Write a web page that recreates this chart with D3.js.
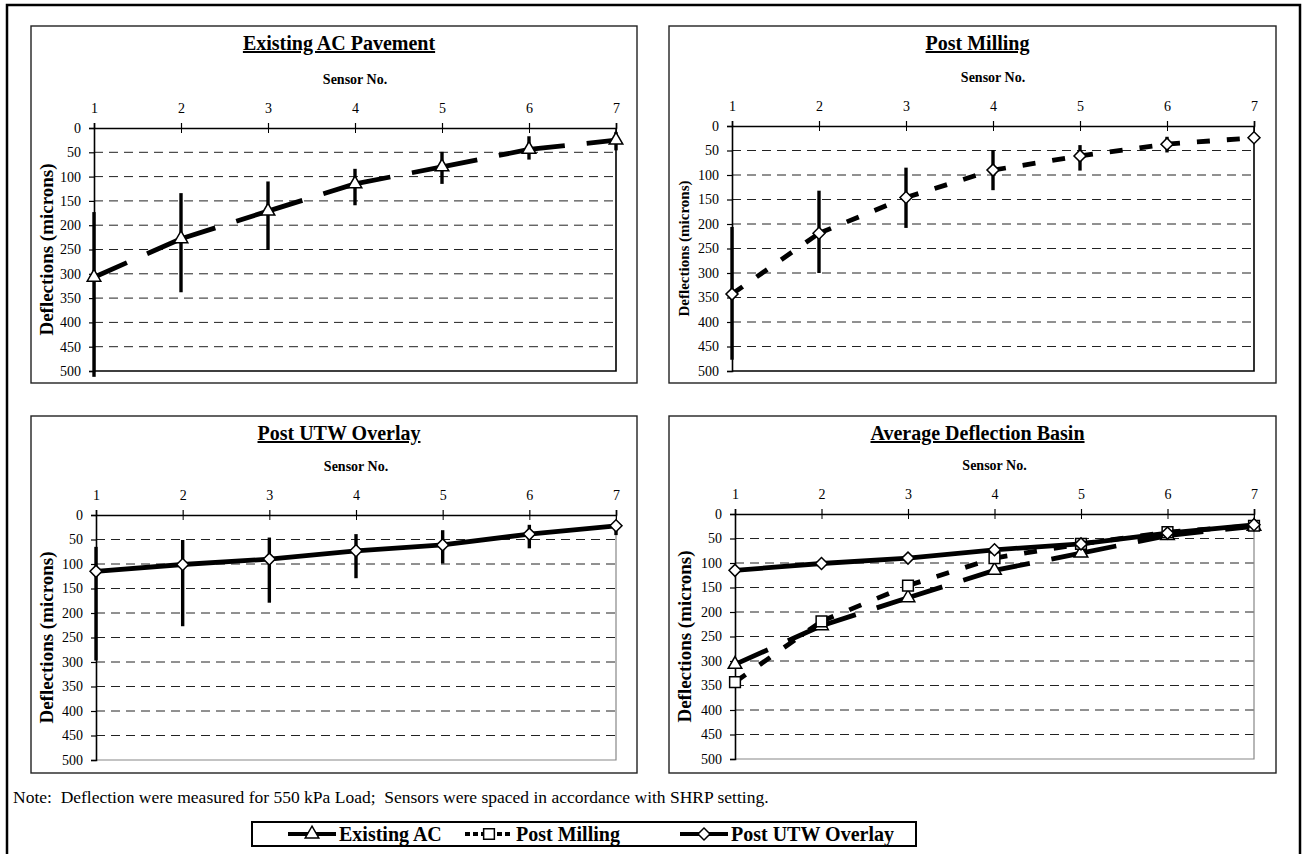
<!DOCTYPE html>
<html>
<head>
<meta charset="utf-8">
<script src="https://cdn.jsdelivr.net/npm/d3@7"></script>
<style>
    body { margin: 0; background: #fff; }
    svg text { font-family: "Liberation Serif", "Times New Roman", serif; fill: #000; }
</style>
</head>
<body>
<div id="chart"></div>
<script>
// Data
const sensors = [1, 2, 3, 4, 5, 6, 7];
const yTicks = [0, 50, 100, 150, 200, 250, 300, 350, 400, 450, 500];
const gridTicks = [50, 100, 150, 200, 250, 300, 350, 400, 450];

// average deflections (microns) and error bar ends
const existingAC = [307, 228, 171, 115, 80, 44, 25];
const existingACLow = [173, 134, 110, 84, 49, 17, 8];
const existingACHigh = [512, 338, 251, 159, 115, 65, 46];

const postMilling = [343, 219, 146, 90, 61, 37, 24];
const postMillingLow = [206, 132, 85, 49, 39, 22, 15];
const postMillingHigh = [477, 300, 208, 131, 91, 54, 32];

const postUTW = [115, 101, 90, 73, 61, 39, 22];
const postUTWLow = [65, 51, 46, 39, 31, 20, 14];
const postUTWHigh = [297, 227, 179, 129, 99, 68, 41];

const panelTitles = ["Existing AC Pavement", "Post Milling", "Post UTW Overlay", "Average Deflection Basin"];
const seriesNames = ["Existing AC", "Post Milling", "Post UTW Overlay"];
const noteText = "Note:  Deflection were measured for 550 kPa Load;  Sensors were spaced in accordance with SHRP setting.";

// Layout
const W = 1303, H = 854;
const font = '"Liberation Serif", "Times New Roman", serif';

const svg = d3.select("#chart").append("svg")
    .attr("width", W)
    .attr("height", H);

// outer frame (bottom runs off the page)
svg.append("rect")
    .attr("x", 7).attr("y", 5)
    .attr("width", 1293).attr("height", 870)
    .attr("fill", "none").attr("stroke", "#000").attr("stroke-width", 2.5);

// line styles per series
const styles = {
    existing: { dash: "36,22", symbol: "triangle" },
    milling: { dash: "13,17", symbol: "diamond" },
    utw: { dash: null, symbol: "diamond" }
};

function markerPath(kind) {
    if (kind === "triangle") return d3.symbol().type(d3.symbolTriangle).size(80)();
    if (kind === "square") return d3.symbol().type(d3.symbolSquare).size(115)();
    return d3.symbol().type(d3.symbolSquare).size(72)();
}

function drawPanel(p) {
    const g = svg.append("g");

    // panel box
    g.append("rect")
        .attr("x", p.box[0]).attr("y", p.box[1])
        .attr("width", p.box[2] - p.box[0]).attr("height", p.box[3] - p.box[1])
        .attr("fill", "#fff").attr("stroke", "#222").attr("stroke-width", 1.4);

    const x = d3.scaleLinear().domain([1, 7]).range([p.plot[0], p.plot[2]]);
    const y = d3.scaleLinear().domain([0, 500]).range([p.plot[1], p.plot[3]]);

    // title
    g.append("text")
        .attr("x", (p.box[0] + p.box[2]) / 2 + 5)
        .attr("y", p.box[1] + 24)
        .attr("text-anchor", "middle")
        .style("font-size", "20px").style("font-weight", "bold")
        .style("text-decoration", "underline")
        .text(p.title);

    g.append("text")
        .attr("x", (p.plot[0] + p.plot[2]) / 2)
        .attr("y", p.plot[1] - 44)
        .attr("text-anchor", "middle")
        .style("font-size", "14px").style("font-weight", "bold")
        .text("Sensor No.");

    // y label
    g.append("text")
        .attr("transform", `translate(${p.ylabX},${(p.plot[1] + p.plot[3]) / 2}) rotate(-90)`)
        .attr("text-anchor", "middle")
        .attr("dy", "0.35em")
        .style("font-size", p.ylabSize + "px").style("font-weight", "bold")
        .text("Deflections (microns)");

    // grid lines
    g.selectAll(".grid")
        .data(gridTicks)
        .enter().append("line")
        .attr("x1", p.plot[0]).attr("x2", p.plot[2])
        .attr("y1", d => y(d)).attr("y2", d => y(d))
        .attr("stroke", "#222").attr("stroke-width", 1)
        .attr("stroke-dasharray", "9,6");

    // right and bottom frame of the plot area
    g.append("path")
        .attr("d", `M${p.plot[2]},${p.plot[1]}V${p.plot[3]}H${p.plot[0]}`)
        .attr("fill", "none").attr("stroke", p.frame).attr("stroke-width", p.frameW);

    // axes
    const xAxis = g.append("g")
        .attr("transform", `translate(0,${p.plot[1]})`)
        .call(d3.axisTop(x).tickValues(sensors).tickSize(5).tickPadding(10).tickFormat(d3.format("d")));
    g.append("g")
        .attr("transform", `translate(0,${p.plot[1]})`)
        .call(d3.axisTop(x).tickValues(sensors).tickSize(-5).tickFormat(""))
        .select(".domain").remove();
    const yAxis = g.append("g")
        .attr("transform", `translate(${p.plot[0]},0)`)
        .call(d3.axisLeft(y).tickValues(yTicks).tickSize(5).tickPadding(8));

    [xAxis, yAxis].forEach(a => {
        a.selectAll("text").style("font-family", font).style("font-size", "14px").attr("fill", "#000");
        a.select(".domain").attr("stroke", "#000").attr("stroke-width", 1.6);
        a.selectAll(".tick line").attr("stroke", "#000").attr("stroke-width", 1.2);
    });

    // series
    p.series.forEach(s => {
        const st = styles[s.style];
        if (s.low) {
            g.selectAll(null)
                .data(s.values)
                .enter().append("line")
                .attr("x1", (d, i) => x(sensors[i])).attr("x2", (d, i) => x(sensors[i]))
                .attr("y1", (d, i) => y(s.low[i])).attr("y2", (d, i) => y(s.high[i]))
                .attr("stroke", "#000").attr("stroke-width", 3.4);
        }
        const line = d3.line().x(d => x(d[0])).y(d => y(d[1]));
        const pts = sensors.map((k, i) => [k, s.values[i]]);
        // dash pattern restarts at every segment
        d3.pairs(pts).forEach(pair => {
            g.append("path")
                .attr("d", line(pair))
                .attr("fill", "none").attr("stroke", "#000").attr("stroke-width", 4.8)
                .attr("stroke-dasharray", st.dash);
        });
        g.selectAll(null)
            .data(pts)
            .enter().append("path")
            .attr("d", markerPath(s.marker || st.symbol))
            .attr("transform", d => `translate(${x(d[0])},${y(d[1])})` + ((s.marker || st.symbol) === "diamond" ? " rotate(45)" : ""))
            .attr("fill", "#fff").attr("stroke", "#000").attr("stroke-width", 1.5);
    });
}

const panels = [
    { title: panelTitles[0], box: [31, 26, 637, 383], plot: [94, 128, 616, 371], ylabX: 46, ylabSize: 19, frame: "#000", frameW: 1.6,
      series: [{ values: existingAC, low: existingACLow, high: existingACHigh, style: "existing" }] },
    { title: panelTitles[1], box: [669, 26, 1276, 383], plot: [732, 126, 1254, 371], ylabX: 684, ylabSize: 15, frame: "#000", frameW: 1.6,
      series: [{ values: postMilling, low: postMillingLow, high: postMillingHigh, style: "milling" }] },
    { title: panelTitles[2], box: [31, 416, 637, 773], plot: [96, 515, 616, 760], ylabX: 46, ylabSize: 19, frame: "#888", frameW: 1.2,
      series: [{ values: postUTW, low: postUTWLow, high: postUTWHigh, style: "utw" }] },
    { title: panelTitles[3], box: [669, 416, 1276, 773], plot: [735, 514, 1254, 759], ylabX: 684, ylabSize: 19, frame: "#888", frameW: 1.2,
      series: [
          { values: existingAC, style: "existing" },
          { values: postMilling, style: "milling", marker: "square" },
          { values: postUTW, style: "utw" }
      ] }
];

panels.forEach(drawPanel);

// note
svg.append("text")
    .attr("x", 13).attr("y", 803)
    .style("font-size", "17.5px")
    .style("white-space", "pre")
    .text(noteText);

// legend
const legend = svg.append("g");
legend.append("rect")
    .attr("x", 252).attr("y", 822).attr("width", 664).attr("height", 24)
    .attr("fill", "#fff").attr("stroke", "#000").attr("stroke-width", 2);

const legendItems = [
    { name: seriesNames[0], cx: 312, dash: null, marker: "triangle" },
    { name: seriesNames[1], cx: 489, dash: "5,3", marker: "square" },
    { name: seriesNames[2], cx: 704, dash: null, marker: "diamond" }
];
legendItems.forEach(it => {
    legend.append("line")
        .attr("x1", it.cx - 24).attr("x2", it.cx + 24)
        .attr("y1", 834).attr("y2", 834)
        .attr("stroke", "#000").attr("stroke-width", 4)
        .attr("stroke-dasharray", it.dash);
    legend.append("path")
        .attr("d", markerPath(it.marker))
        .attr("transform", `translate(${it.cx},834)` + (it.marker === "diamond" ? " rotate(45)" : ""))
        .attr("fill", "#fff").attr("stroke", "#000").attr("stroke-width", 1.5);
    legend.append("text")
        .attr("x", it.cx + 27).attr("y", 841)
        .style("font-size", "20px").style("font-weight", "bold")
        .text(it.name);
});
</script>
</body>
</html>
